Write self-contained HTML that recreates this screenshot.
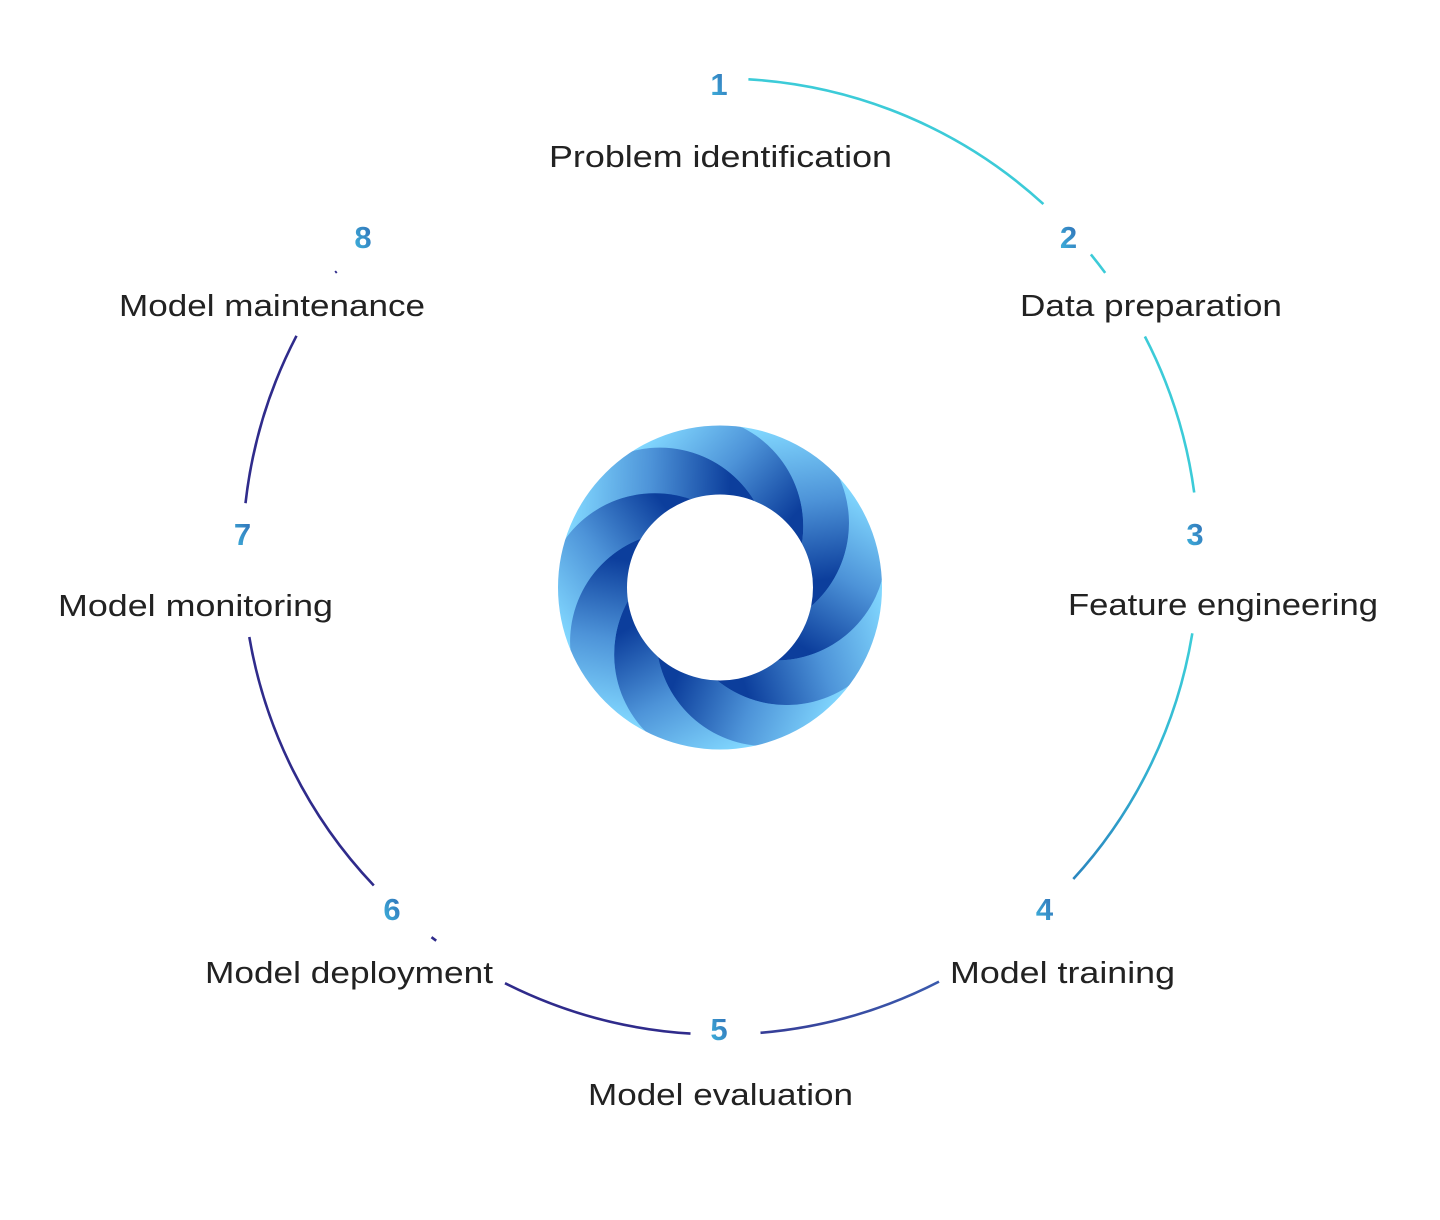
<!DOCTYPE html>
<html>
<head>
<meta charset="utf-8">
<style>
  html,body{margin:0;padding:0;background:#ffffff;}
  svg{display:block;}
  .lbl{font-family:"Liberation Sans","DejaVu Sans",sans-serif;font-size:31px;fill:#222222;}
  .num{font-family:"Liberation Sans","DejaVu Sans",sans-serif;font-size:31px;font-weight:bold;fill:url(#numg);text-anchor:middle;}
</style>
</head>
<body>
<svg width="1440" height="1220" viewBox="0 0 1440 1220" xmlns="http://www.w3.org/2000/svg">
  <defs>
    <linearGradient id="numg" x1="0" y1="1" x2="1" y2="0">
      <stop offset="0" stop-color="#3fb8df"/>
      <stop offset="1" stop-color="#2f6ab4"/>
    </linearGradient>
    <linearGradient id="gc" gradientUnits="userSpaceOnUse" x1="0" y1="633" x2="0" y2="879">
      <stop offset="0" stop-color="#3ccdd8"/>
      <stop offset="0.5" stop-color="#34b6d3"/>
      <stop offset="1" stop-color="#2a86bf"/>
    </linearGradient>
    <linearGradient id="gd" gradientUnits="userSpaceOnUse" x1="939" y1="0" x2="760" y2="0">
      <stop offset="0" stop-color="#3a5aad"/>
      <stop offset="1" stop-color="#363d97"/>
    </linearGradient>
    <clipPath id="ann">
      <path clip-rule="evenodd" d="M162 0 A162 162 0 1 1 -162 0 A162 162 0 1 1 162 0 Z M93 0 A93 93 0 1 1 -93 0 A93 93 0 1 1 93 0 Z"/>
    </clipPath>
    <mask id="m" maskUnits="userSpaceOnUse" x="-250" y="-250" width="500" height="500">
      <rect x="-250" y="-250" width="500" height="500" fill="#ffffff"/>
      <circle cx="-65.04" cy="16.10" r="110.4" fill="#000000"/>
    </mask>
    <linearGradient id="bl" gradientUnits="userSpaceOnUse" x1="-150" y1="-98" x2="10" y2="-92">
      <stop offset="0" stop-color="#82d8ff"/>
      <stop offset="0.5" stop-color="#4d93d8"/>
      <stop offset="1" stop-color="#0c3e9c"/>
    </linearGradient>
  </defs>

  <!-- outer cycle arcs -->
  <g fill="none" stroke-width="2.6" stroke-linecap="butt">
    <path d="M748.4 79.3 A478 478 0 0 1 1043.4 204.1" stroke="#3ccbd8"/>
    <path d="M1090.9 254.4 A478 478 0 0 1 1105.2 272.9" stroke="#3ccbd8"/>
    <path d="M1144.9 336.5 A478 478 0 0 1 1194.2 492.5" stroke="#3ccbd8"/>
    <path d="M1192.3 633.3 A478 478 0 0 1 1073.3 879.0" stroke="url(#gc)"/>
    <path d="M939.0 981.6 A478 478 0 0 1 760.5 1032.8" stroke="url(#gd)"/>
    <path d="M690.5 1033.6 A478 478 0 0 1 505.0 983.2" stroke="#2f2b8b"/>
    <path d="M436.2 940.7 A478 478 0 0 1 431.5 937.2" stroke="#2f2b8b"/>
    <path d="M373.8 885.5 A478 478 0 0 1 249.3 637.0" stroke="#2f2b8b"/>
    <path d="M245.5 503.2 A478 478 0 0 1 296.5 335.8" stroke="#2f2b8b"/>
    <path d="M336.7 271.5 A478 478 0 0 1 335.2 272.6" stroke="#2f2b8b"/>
  </g>

  <!-- swirl donut -->
  <g transform="translate(720,587.5)">
    <circle r="127.5" fill="none" stroke="#3f86cf" stroke-width="68"/>
    <g clip-path="url(#ann)">
      <g transform="rotate(0)"><circle cx="-60.17" cy="-29.48" r="110.4" fill="url(#bl)" mask="url(#m)"/></g>
      <g transform="rotate(40)"><circle cx="-60.17" cy="-29.48" r="110.4" fill="url(#bl)" mask="url(#m)"/></g>
      <g transform="rotate(80)"><circle cx="-60.17" cy="-29.48" r="110.4" fill="url(#bl)" mask="url(#m)"/></g>
      <g transform="rotate(120)"><circle cx="-60.17" cy="-29.48" r="110.4" fill="url(#bl)" mask="url(#m)"/></g>
      <g transform="rotate(160)"><circle cx="-60.17" cy="-29.48" r="110.4" fill="url(#bl)" mask="url(#m)"/></g>
      <g transform="rotate(200)"><circle cx="-60.17" cy="-29.48" r="110.4" fill="url(#bl)" mask="url(#m)"/></g>
      <g transform="rotate(240)"><circle cx="-60.17" cy="-29.48" r="110.4" fill="url(#bl)" mask="url(#m)"/></g>
      <g transform="rotate(280)"><circle cx="-60.17" cy="-29.48" r="110.4" fill="url(#bl)" mask="url(#m)"/></g>
      <g transform="rotate(320)"><circle cx="-60.17" cy="-29.48" r="110.4" fill="url(#bl)" mask="url(#m)"/></g>
    </g>
  </g>

  <!-- numbers -->
  <text class="num" x="719" y="95">1</text>
  <text class="num" x="1068.5" y="248">2</text>
  <text class="num" x="1195" y="545">3</text>
  <text class="num" x="1044.5" y="920">4</text>
  <text class="num" x="719" y="1040">5</text>
  <text class="num" x="392" y="920">6</text>
  <text class="num" x="242.5" y="545">7</text>
  <text class="num" x="363" y="248">8</text>

  <!-- labels -->
  <text class="lbl" x="549" y="167" textLength="343" lengthAdjust="spacingAndGlyphs">Problem identification</text>
  <text class="lbl" x="1020" y="316" textLength="262" lengthAdjust="spacingAndGlyphs">Data preparation</text>
  <text class="lbl" x="1068" y="615" textLength="310" lengthAdjust="spacingAndGlyphs">Feature engineering</text>
  <text class="lbl" x="950" y="983" textLength="225" lengthAdjust="spacingAndGlyphs">Model training</text>
  <text class="lbl" x="588" y="1105" textLength="265" lengthAdjust="spacingAndGlyphs">Model evaluation</text>
  <text class="lbl" x="205" y="983" textLength="288" lengthAdjust="spacingAndGlyphs">Model deployment</text>
  <text class="lbl" x="58" y="616" textLength="275" lengthAdjust="spacingAndGlyphs">Model monitoring</text>
  <text class="lbl" x="119" y="316" textLength="306" lengthAdjust="spacingAndGlyphs">Model maintenance</text>
</svg>
</body>
</html>
